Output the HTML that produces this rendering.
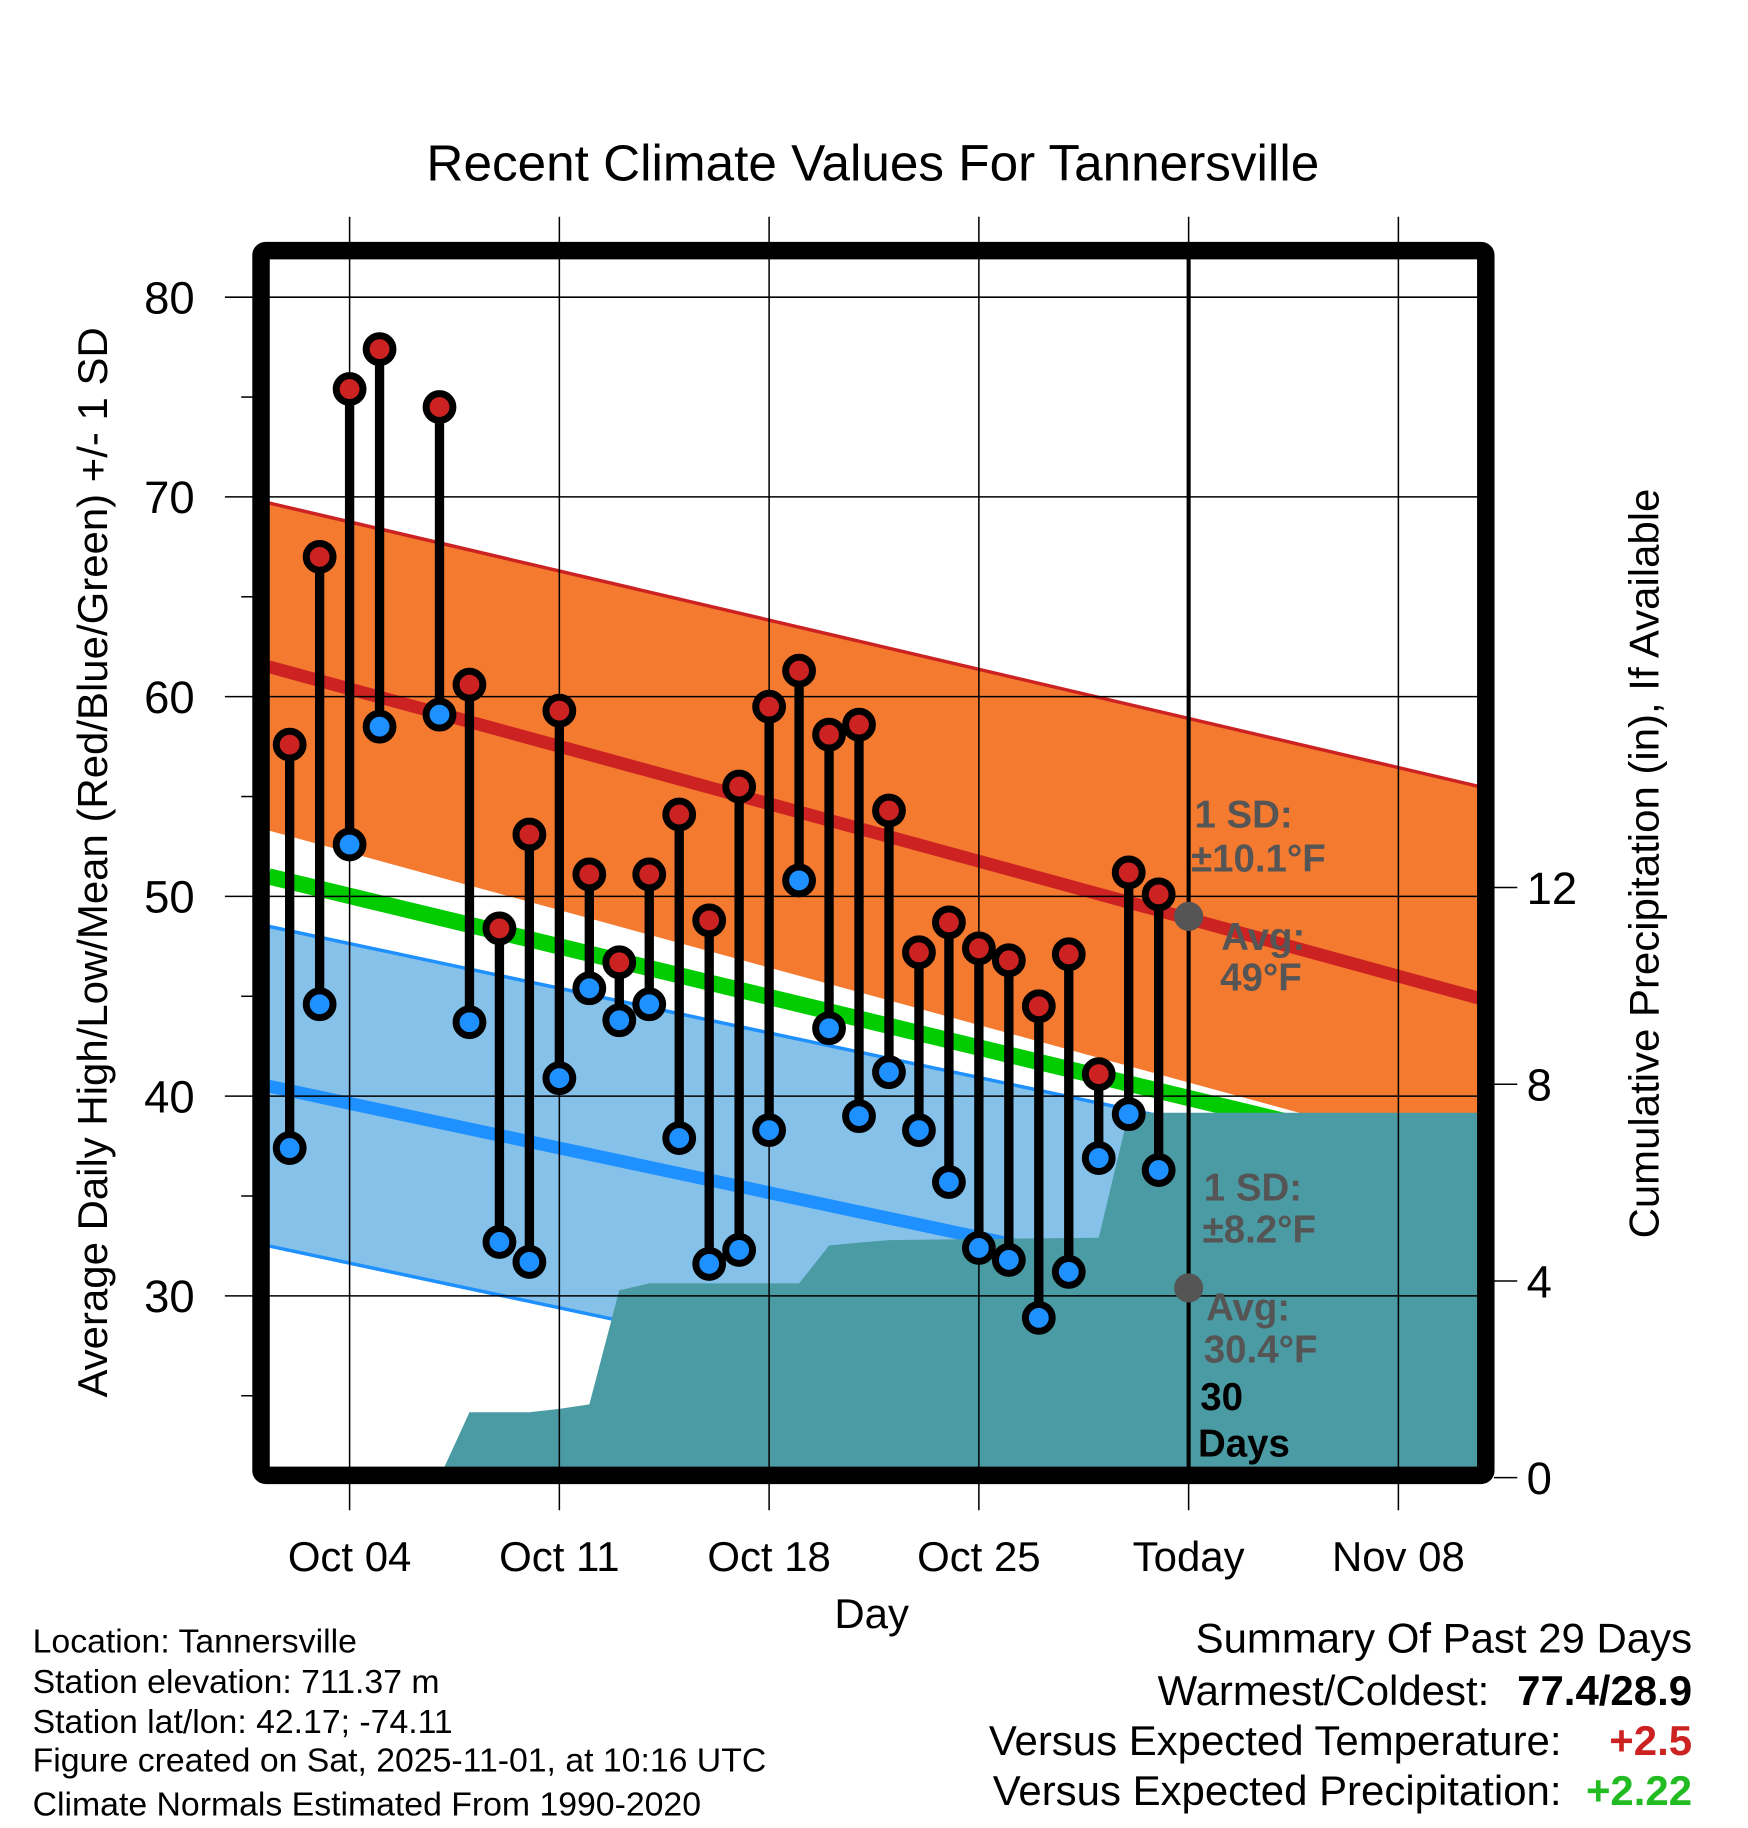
<!DOCTYPE html>
<html><head><meta charset="utf-8"><style>
html,body{margin:0;padding:0;background:#fff;}
svg{display:block;font-family:"Liberation Sans",sans-serif;}
</style></head><body>
<svg id="chart" xmlns="http://www.w3.org/2000/svg" width="1748" height="1828" viewBox="0 0 1500 1568.6">
<rect width="1500" height="1568.6" fill="#fff"/>
<defs><clipPath id="plotclip"><rect x="231" y="222" width="1037" height="1037"/></clipPath></defs>
<g id="plot" clip-path="url(#plotclip)"></g>
<g id="grid"></g>
<g id="marks"></g>
<g id="labels"></g>
<text x="749" y="155" font-size="44" text-anchor="middle">Recent Climate Values For Tannersville</text>
<text transform="translate(92,740) rotate(-90)" font-size="36" text-anchor="middle">Average Daily High/Low/Mean (Red/Blue/Green) +/- 1 SD</text>
<text transform="translate(1423,741) rotate(-90)" font-size="36" text-anchor="middle">Cumulative Precipitation (in), If Available</text>
<text x="748" y="1397" font-size="36" text-anchor="middle">Day</text>
<g font-size="29">
<text x="28" y="1418">Location: Tannersville</text>
<text x="28" y="1453">Station elevation: 711.37 m</text>
<text x="28" y="1487">Station lat/lon: 42.17; -74.11</text>
<text x="28" y="1520">Figure created on Sat, 2025-11-01, at 10:16 UTC</text>
<text x="28" y="1558">Climate Normals Estimated From 1990-2020</text>
</g>
<g font-size="36" text-anchor="end">
<text x="1452" y="1418">Summary Of Past 29 Days</text>
<text x="1278" y="1463">Warmest/Coldest:</text>
<text x="1452" y="1463" font-weight="bold">77.4/28.9</text>
<text x="1340" y="1506">Versus Expected Temperature:</text>
<text x="1452" y="1506" font-weight="bold" fill="#cc2222">+2.5</text>
<text x="1340" y="1549">Versus Expected Precipitation:</text>
<text x="1452" y="1549" font-weight="bold" fill="#22bb22">+2.22</text>
</g>
</svg>
<script>
const days = [2,3,4,5,7,8,9,10,11,12,13,14,15,16,17,18,19,20,21,22,23,24,25,26,27,28,29,30,31];
const highs = [57.6,67.0,75.4,77.4,74.5,60.6,48.4,53.1,59.3,51.1,46.7,51.1,54.1,48.8,55.5,59.5,61.3,58.1,58.6,54.3,47.2,48.7,47.4,46.8,44.5,47.1,41.1,51.2,50.1];
const lows = [37.4,44.6,52.6,58.5,59.1,43.7,32.7,31.7,40.9,45.4,43.8,44.6,37.9,31.6,32.3,38.3,50.8,43.4,39.0,41.2,38.3,35.7,32.4,31.8,28.9,31.2,36.9,39.1,36.3];
const precipDays = [7,8,9,10,11,12,13,14,19,20,21,22,29,30,31,44];
const precipCum = [0,1.33,1.33,1.33,1.40,1.49,3.81,3.95,3.95,4.72,4.78,4.83,4.88,7.42,7.42,7.42];
const normDays = [1.3,41.7];
const normHigh = [61.5,44.9];
const normLow = [40.5,27.6];
const normMean = [51.0,36.4];
const sdHighUp = [8.2,10.6];
const sdHighDown = [8.2,8.2];
const sdLow = [8.0,8.0];
const todayAvg = [49,30.4];
const xTickDays = [4,11,18,25,32,39];
const xTickLabels = ["Oct 04","Oct 11","Oct 18","Oct 25","Today","Nov 08"];
const yTicks = [30,40,50,60,70,80];
const y2Ticks = [0,4,8,12];
const todayDay = 32;

const NS="http://www.w3.org/2000/svg";
const X = d => 300 + (d-4)*25.714;
const Y = v => 255 + (80-v)*17.14;
const Y2 = p => 1268 - p*42.2;
function mk(tag, attrs, parent){const e=document.createElementNS(NS,tag);for(const k in attrs)e.setAttribute(k,attrs[k]);parent.appendChild(e);return e;}
const plot=document.getElementById('plot'), grid=document.getElementById('grid'), marks=document.getElementById('marks'), labels=document.getElementById('labels');
function band(mean,sd,sign){const pts=[];for(let i=0;i<2;i++)pts.push(X(normDays[i])+','+Y(mean[i]+sd[i]*sign));return pts;}
let p=[...band(normHigh,sdHighUp,1),...band(normHigh,sdHighDown,-1).reverse()];
let e=mk('polygon',{points:p.join(' '),fill:'#f47a30'},plot);


e=mk('polyline',{points:band(normHigh,sdHighUp,1).join(' '),fill:'none',stroke:'#cc2222','stroke-width':3},plot);


p=[...band(normLow,sdLow,1),...band(normLow,sdLow,-1).reverse()];
e=mk('polygon',{points:p.join(' '),fill:'#85c1e9'},plot);


for(const s of [1,-1]){e=mk('polyline',{points:band(normLow,sdLow,s).join(' '),fill:'none',stroke:'#1e90ff','stroke-width':3},plot);

}
e=mk('line',{x1:X(normDays[0]),y1:Y(normMean[0]),x2:X(normDays[1]),y2:Y(normMean[1]),stroke:'#00cc00','stroke-width':14},plot);


e=mk('line',{x1:X(normDays[0]),y1:Y(normHigh[0]),x2:X(normDays[1]),y2:Y(normHigh[1]),stroke:'#cc2222','stroke-width':11},plot);


e=mk('line',{x1:X(normDays[0]),y1:Y(normLow[0]),x2:X(normDays[1]),y2:Y(normLow[1]),stroke:'#1e90ff','stroke-width':11},plot);


let pp=[X(precipDays[0])+','+1270];
precipDays.forEach((d,i)=>pp.push(X(d)+','+Y2(precipCum[i])));
pp.push(X(precipDays[precipDays.length-1])+',1270');
e=mk('polygon',{points:pp.join(' '),fill:'#4a9ba3'},plot);


xTickDays.forEach((d,i)=>{
 e=mk('line',{x1:X(d),y1:186,x2:X(d),y2:1296,stroke:'#000','stroke-width':1.3},grid);
 
 
 e=mk('text',{x:X(d),y:1348,'font-size':36,'text-anchor':'middle'},labels);
 e.textContent=xTickLabels[i];
 
 
});
yTicks.forEach(v=>{
 e=mk('line',{x1:193,y1:Y(v),x2:1268,y2:Y(v),stroke:'#000','stroke-width':1.3},grid);
 
 
 e=mk('text',{x:167,y:Y(v)+14,'font-size':39,'text-anchor':'end'},labels);
 e.textContent=v;
 
 
});
for(let v=25;v<=75;v+=10){e=mk('line',{x1:207,y1:Y(v),x2:218,y2:Y(v),stroke:'#000','stroke-width':1.3},grid);
 
 }
y2Ticks.forEach(v=>{
 e=mk('line',{x1:1282,y1:Y2(v),x2:1302,y2:Y2(v),stroke:'#000','stroke-width':1.3},grid);
 
 
 e=mk('text',{x:1310,y:Y2(v)+14,'font-size':39},labels);
 e.textContent=v;
 
 
});
e=mk('line',{x1:X(todayDay),y1:222,x2:X(todayDay),y2:1260,stroke:'#000','stroke-width':3.5},marks);


todayAvg.forEach(v=>{
 e=mk('circle',{cx:X(todayDay),cy:Y(v),r:12.5,fill:'#555'},marks);
 
 
});
days.forEach((d,i)=>{
 e=mk('line',{x1:X(d),y1:Y(highs[i]),x2:X(d),y2:Y(lows[i]),stroke:'#000','stroke-width':8},marks);
 
 
 e=mk('circle',{cx:X(d),cy:Y(highs[i]),r:11.5,fill:'#cc2222',stroke:'#000','stroke-width':6},marks);
 
 
 e=mk('circle',{cx:X(d),cy:Y(lows[i]),r:11.5,fill:'#1e90ff',stroke:'#000','stroke-width':6},marks);
 
 
});
e=mk('rect',{x:224,y:215,width:1051,height:1051,rx:4,fill:'none',stroke:'#000','stroke-width':15},marks);


const ann=[["1 SD:",1025,710,'#555'],["±10.1°F",1022,748,'#555'],["Avg:",1048,815,'#555'],["49°F",1047,850,'#555'],
["1 SD:",1033,1030,'#555'],["±8.2°F",1032,1066,'#555'],["Avg:",1035,1133,'#555'],["30.4°F",1033,1169,'#555'],
["30",1030,1210,'#000'],["Days",1028,1250,'#000']];
ann.forEach(a=>{e=mk('text',{x:a[1],y:a[2],'font-size':33,'font-weight':'bold',fill:a[3]},labels);
 e.textContent=a[0];
 
 });
</script>
</body></html>
